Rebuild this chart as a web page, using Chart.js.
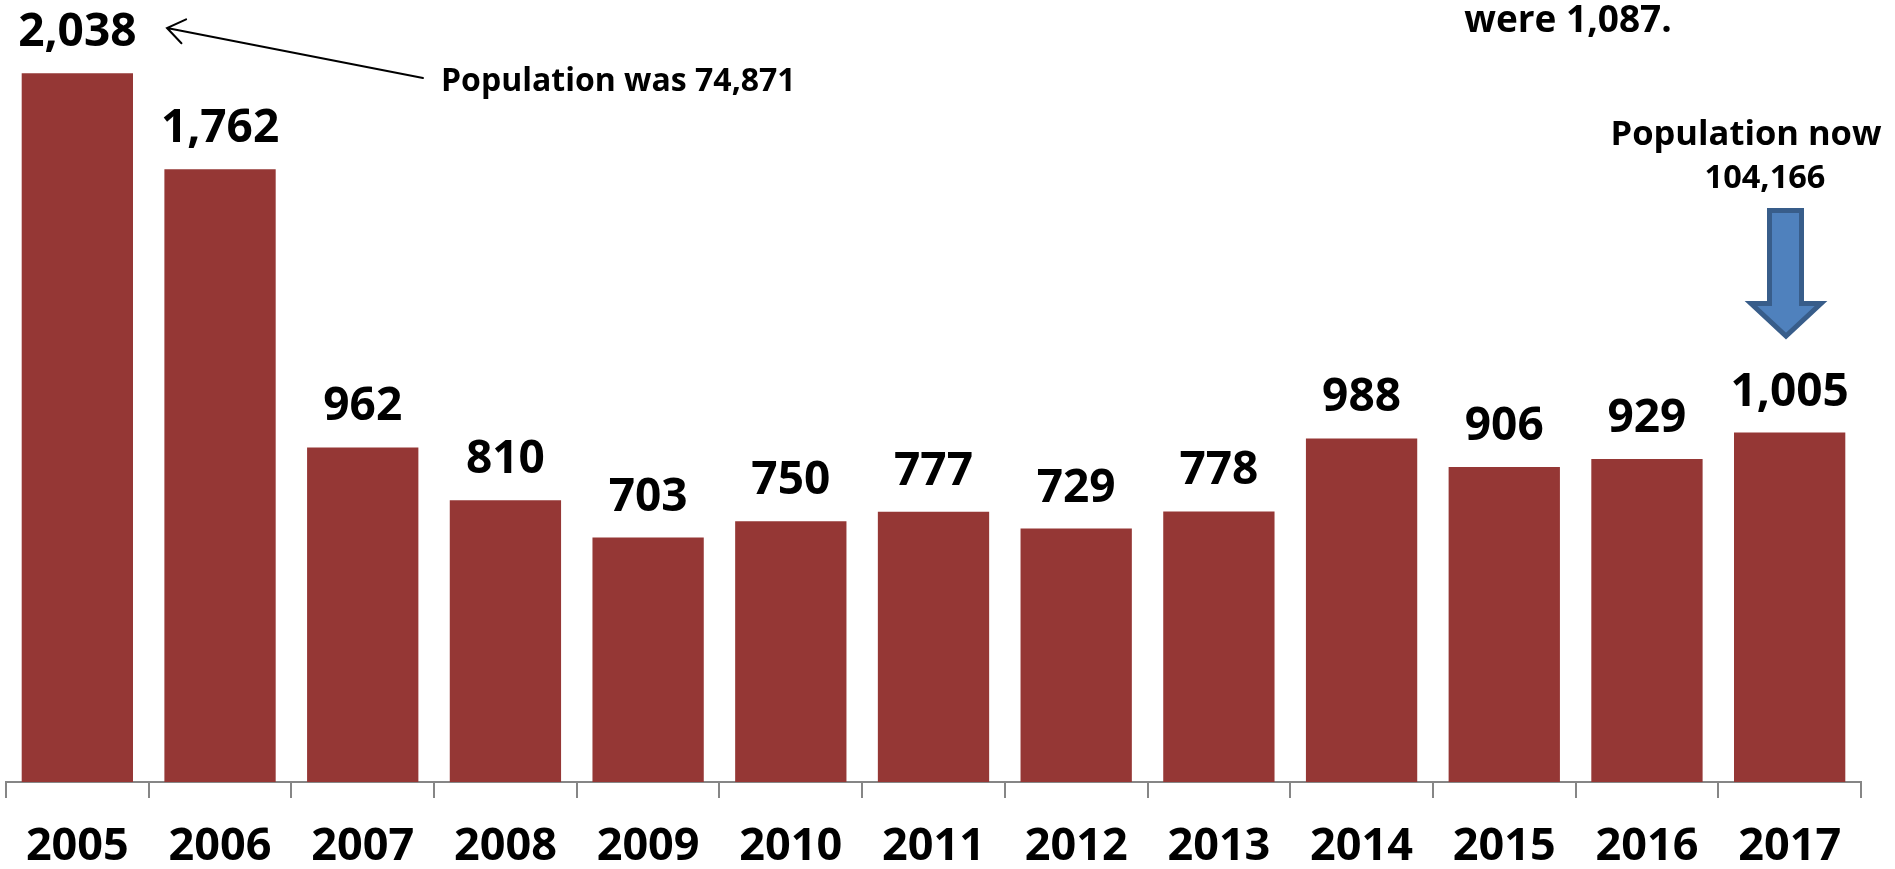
<!DOCTYPE html>
<html>
<head>
<meta charset="utf-8">
<script src="https://cdn.jsdelivr.net/npm/chart.js@4.4.1/dist/chart.umd.min.js"></script>
<style>
  html, body { margin: 0; padding: 0; background: #ffffff; }
  #wrap { width: 1895px; height: 869px; position: relative; }
</style>
</head>
<body>
<div id="wrap"><canvas id="c"></canvas></div>
<script>
// ---- data ----
const years = ['2005','2006','2007','2008','2009','2010','2011','2012','2013','2014','2015','2016','2017'];
const counts = [2038, 1762, 962, 810, 703, 750, 777, 729, 778, 988, 906, 929, 1005];
const yMin = 0;
const yMax = 2200;

// ---- annotation texts ----
const noteFirst = 'Population was 74,871';
const noteTop = 'were 1,087.';
const noteLastLines = ['Population now', '104,166'];

const FONT = '"Open Sans", "DejaVu Sans", sans-serif';
const BAR_COLOR = '#953735';
const AXIS_COLOR = '#868686';

const fmt = new Intl.NumberFormat('en-US');

const valueLabelPlugin = {
  id: 'valueLabels',
  afterDatasetsDraw(chart) {
    const ctx = chart.ctx;
    const meta = chart.getDatasetMeta(0);
    ctx.save();
    ctx.fillStyle = '#000';
    ctx.font = 'bold 46px ' + FONT;
    ctx.textAlign = 'center';
    ctx.textBaseline = 'alphabetic';
    meta.data.forEach((bar, i) => {
      ctx.fillText(fmt.format(counts[i]), bar.x, bar.y - 27);
    });
    ctx.restore();
  }
};

const annotationPlugin = {
  id: 'annotations',
  afterDraw(chart) {
    const ctx = chart.ctx;
    ctx.save();
    // thin arrow pointing at the 2005 label
    const tail = {x: 423, y: 78}, tip = {x: 167, y: 28};
    ctx.strokeStyle = '#000';
    ctx.lineWidth = 2;
    ctx.lineCap = 'round';
    ctx.beginPath();
    ctx.moveTo(tail.x, tail.y);
    ctx.lineTo(tip.x, tip.y);
    const ang = Math.atan2(tail.y - tip.y, tail.x - tip.x);
    const wl = 21, wa = 0.62;
    ctx.moveTo(tip.x + wl * Math.cos(ang - wa), tip.y + wl * Math.sin(ang - wa));
    ctx.lineTo(tip.x, tip.y);
    ctx.lineTo(tip.x + wl * Math.cos(ang + wa), tip.y + wl * Math.sin(ang + wa));
    ctx.stroke();

    ctx.fillStyle = '#000';
    ctx.textBaseline = 'alphabetic';
    ctx.font = 'bold 32px ' + FONT;
    ctx.textAlign = 'left';
    ctx.fillText(noteFirst, 441, 91);

    ctx.font = 'bold 37px ' + FONT;
    ctx.textAlign = 'center';
    ctx.fillText(noteTop, 1568, 32);

    ctx.font = 'bold 34.5px ' + FONT;
    ctx.fillText(noteLastLines[0], 1746, 145);
    ctx.font = 'bold 32.5px ' + FONT;
    ctx.fillText(noteLastLines[1], 1765, 188);

    // blue block arrow above the 2017 bar
    ctx.beginPath();
    ctx.moveTo(1769.5, 210.5);
    ctx.lineTo(1801.5, 210.5);
    ctx.lineTo(1801.5, 303.5);
    ctx.lineTo(1821, 303.5);
    ctx.lineTo(1786, 336);
    ctx.lineTo(1751, 303.5);
    ctx.lineTo(1769.5, 303.5);
    ctx.closePath();
    ctx.fillStyle = '#4F81BD';
    ctx.fill();
    ctx.lineWidth = 5;
    ctx.lineJoin = 'miter';
    ctx.strokeStyle = '#385D8A';
    ctx.stroke();
    ctx.restore();
  }
};

new Chart(document.getElementById('c'), {
  type: 'bar',
  data: {
    labels: years,
    datasets: [{
      data: counts,
      backgroundColor: BAR_COLOR,
      borderWidth: 0,
      categoryPercentage: 0.78,
      barPercentage: 1.0
    }]
  },
  options: {
    responsive: true,
    maintainAspectRatio: false,
    animation: false,
    devicePixelRatio: 1,
    layout: { padding: { left: 6, right: 34, top: 17, bottom: 0 } },
    plugins: { legend: { display: false }, tooltip: { enabled: false }, title: { display: false } },
    scales: {
      x: {
        grid: {
          display: true,
          drawOnChartArea: false,
          drawTicks: true,
          tickLength: 16,
          color: AXIS_COLOR,
          lineWidth: 2,
          offset: true
        },
        border: { display: true, color: AXIS_COLOR, width: 2 },
        ticks: {
          color: '#000',
          font: { family: FONT, size: 45, weight: 'bold', lineHeight: 1.2 },
          padding: 22,
          maxRotation: 0,
          autoSkip: false
        },
        afterFit(scale) { scale.height = 87; }
      },
      y: {
        display: false,
        min: yMin,
        max: yMax
      }
    }
  },
  plugins: [valueLabelPlugin, annotationPlugin]
});
</script>
</body>
</html>
